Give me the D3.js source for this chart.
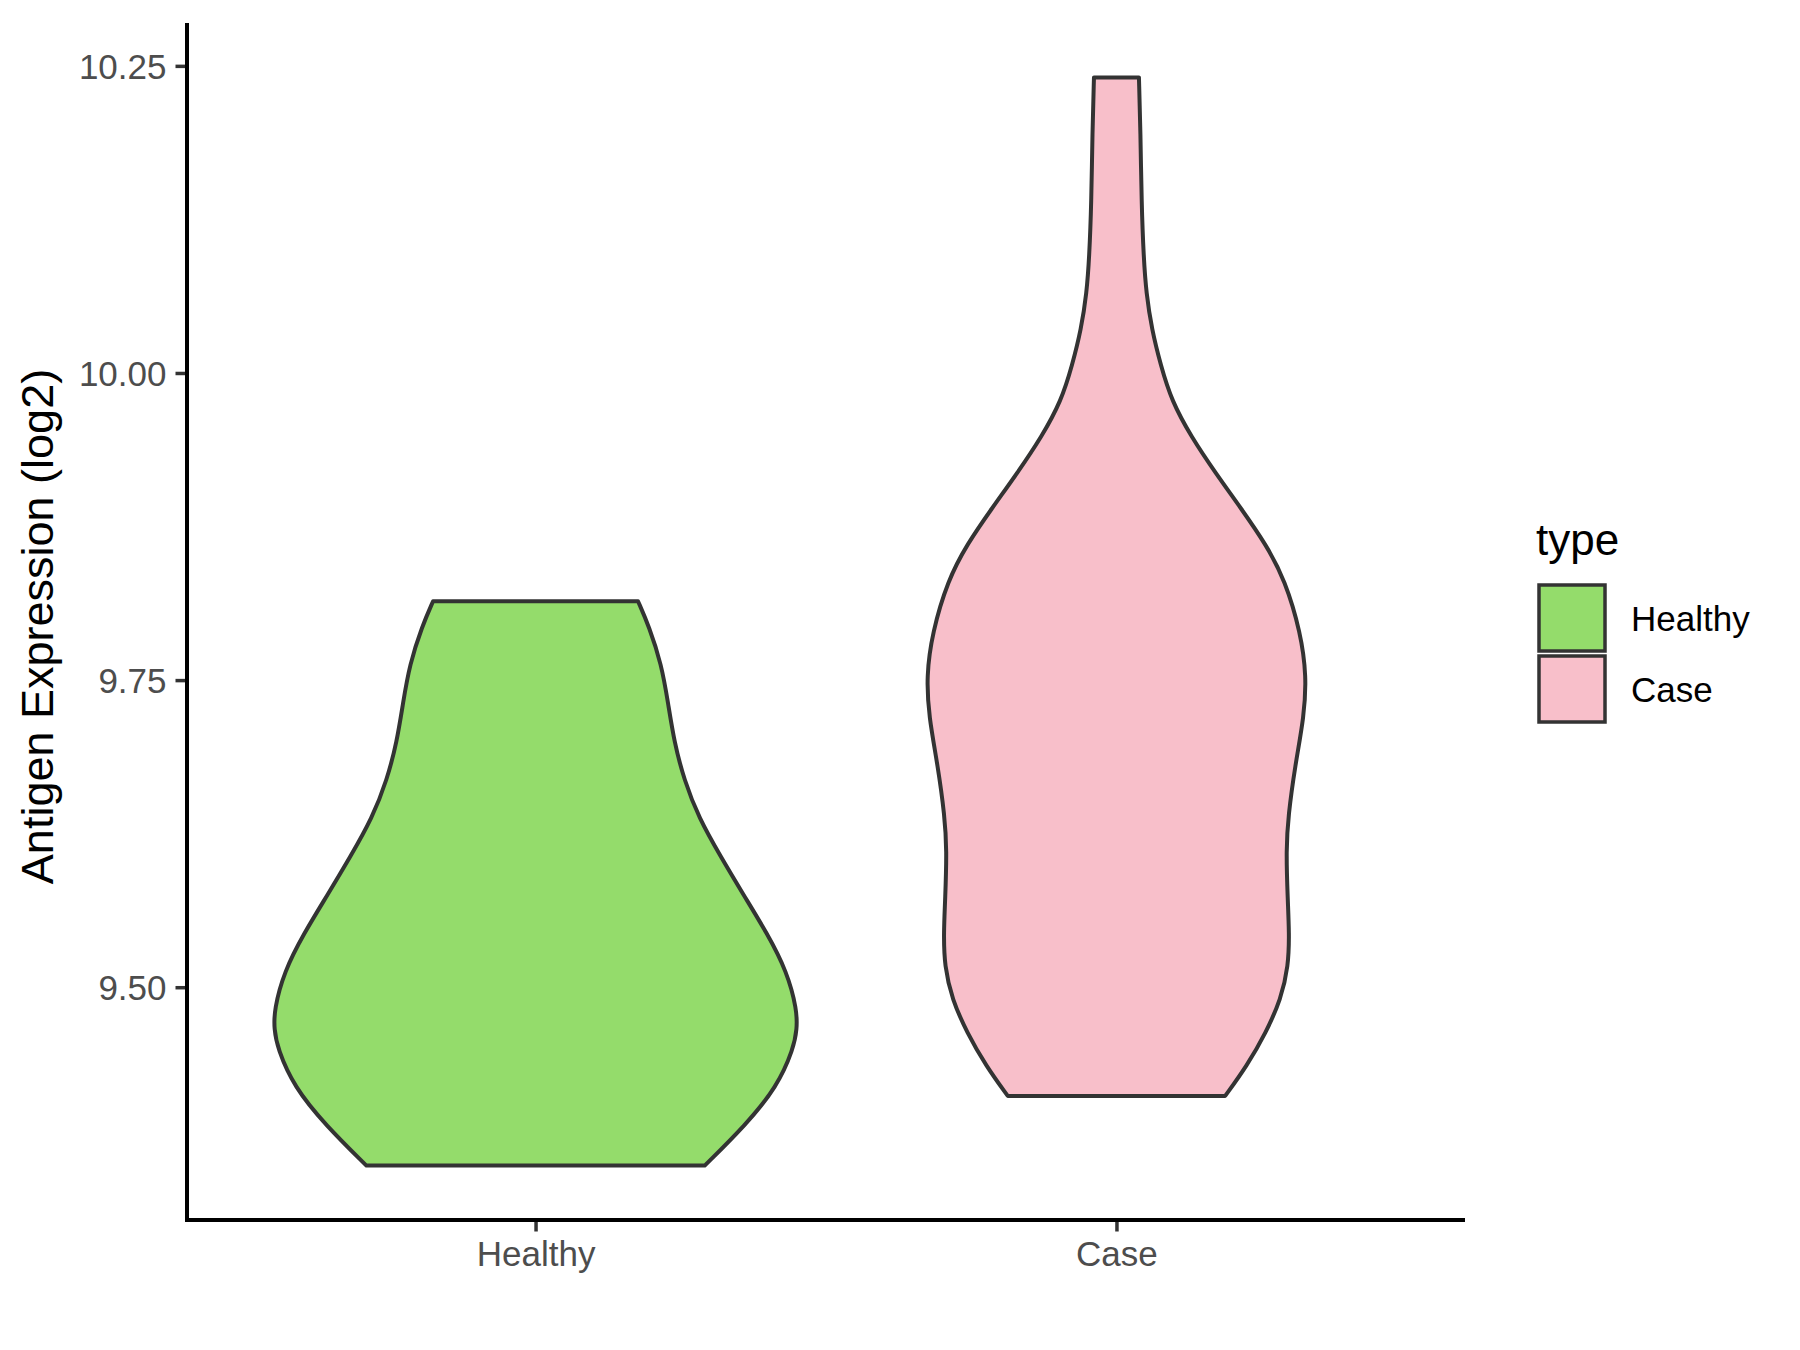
<!DOCTYPE html>
<html>
<head>
<meta charset="utf-8">
<script src="https://cdn.jsdelivr.net/npm/d3@7"></script>
<style>
  html, body { margin: 0; padding: 0; background: #fff; }
  svg text { font-family: "Liberation Sans", Arial, sans-serif; }
</style>
</head>
<body>
<svg id="chart" width="1800" height="1350"></svg>
<script>
// ---- data ----
const categories = ["Healthy", "Case"];
const fillColors = ["#94DC6B", "#F8BFCA"];
const yTicks = [9.50, 9.75, 10.00, 10.25];
const yTickLabels = ["9.50", "9.75", "10.00", "10.25"];

// violin density profiles (value, relative half-width)
const healthyValues = [9.3548, 9.3877, 9.4189, 9.4502, 9.4659, 9.4815, 9.5127, 9.5439, 9.5751, 9.6064, 9.6376, 9.6689, 9.7001, 9.7314, 9.7626, 9.7938, 9.8142];
const healthyDensity = [0.647, 0.803, 0.924, 0.987, 1.000, 1.000, 0.962, 0.886, 0.796, 0.708, 0.625, 0.568, 0.530, 0.507, 0.482, 0.434, 0.392];

const caseValues = [9.4115, 9.4359, 9.4631, 9.4902, 9.5172, 9.5444, 9.5715, 9.6121, 9.6392, 9.6799, 9.7206, 9.7531, 9.7884, 9.8313, 9.8605, 9.8897, 9.9189, 9.9481, 9.9773, 10.0065, 10.0357, 10.0649, 10.0941, 10.1378, 10.1962, 10.2406];
const caseDensity = [0.416, 0.499, 0.572, 0.629, 0.658, 0.661, 0.655, 0.649, 0.657, 0.683, 0.718, 0.727, 0.705, 0.645, 0.572, 0.477, 0.378, 0.286, 0.211, 0.169, 0.135, 0.114, 0.104, 0.096, 0.092, 0.086];

const seriesValues = [healthyValues, caseValues];
const seriesDensity = [healthyDensity, caseDensity];

// ---- layout ----
const svg = d3.select("#chart");
const panel = { left: 187, right: 1465, top: 23, bottom: 1220 };

const allVals = healthyValues.concat(caseValues);
const vMin = d3.min(allVals), vMax = d3.max(allVals);
const pad = (vMax - vMin) * 0.05;

const y = d3.scaleLinear().domain([vMin - pad, vMax + pad]).range([panel.bottom, panel.top]);
const x = d3.scalePoint().domain(categories).range([panel.left, panel.right]).padding(0.6);
const halfMax = x.step() * 0.45;
const w = d3.scaleLinear().domain([0, 1]).range([0, halfMax]);

// violins
categories.forEach((cat, i) => {
  const pts = seriesValues[i].map((v, j) => ({ v: v, d: seriesDensity[i][j] }));
  const cx = x(cat);
  const area = d3.area()
    .y(p => y(p.v))
    .x0(p => cx - w(p.d))
    .x1(p => cx + w(p.d))
    .curve(d3.curveBasis);
  svg.append("path")
    .datum(pts)
    .attr("d", area)
    .attr("fill", fillColors[i])
    .attr("stroke", "#333333")
    .attr("stroke-width", 4)
    .attr("stroke-linejoin", "round");
});

// axes
const yAxis = svg.append("g").attr("transform", `translate(${panel.left},0)`)
  .call(d3.axisLeft(y).tickValues(yTicks).tickFormat((d, i) => yTickLabels[i]).tickSize(11.5).tickPadding(9));
const xAxis = svg.append("g").attr("transform", `translate(0,${panel.bottom})`)
  .call(d3.axisBottom(x).tickSize(11.5).tickPadding(9));

[yAxis, xAxis].forEach(g => {
  g.select(".domain").remove();
  g.selectAll(".tick line").attr("stroke", "#333333").attr("stroke-width", 3.5);
  g.selectAll(".tick text").attr("fill", "#4D4D4D").style("font-size", "35px").style("font-family", "Liberation Sans, Arial, sans-serif");
});
xAxis.selectAll(".tick text").attr("dy", null).attr("y", 46);
yAxis.selectAll(".tick text").attr("dy", "0.36em");

svg.append("line").attr("x1", panel.left).attr("x2", panel.left).attr("y1", panel.top).attr("y2", panel.bottom + 2)
  .attr("stroke", "#000").attr("stroke-width", 4);
svg.append("line").attr("x1", panel.left - 2).attr("x2", panel.right).attr("y1", panel.bottom).attr("y2", panel.bottom)
  .attr("stroke", "#000").attr("stroke-width", 4);

// y title
svg.append("text")
  .attr("transform", `translate(53,${(panel.top + panel.bottom) / 2 + 5}) rotate(-90)`)
  .attr("text-anchor", "middle")
  .style("font-size", "45px")
  .attr("fill", "#000")
  .text("Antigen Expression (log2)");

// legend
const lg = svg.append("g");
lg.append("text").attr("x", 1536).attr("y", 555).style("font-size", "44px").attr("fill", "#000").text("type");
categories.forEach((cat, i) => {
  const ky = 585 + i * 71;
  lg.append("rect").attr("x", 1539).attr("y", ky).attr("width", 66).attr("height", 66)
    .attr("fill", fillColors[i]).attr("stroke", "#333333").attr("stroke-width", 3.5);
  lg.append("text").attr("x", 1631).attr("y", ky + 46).style("font-size", "35px").attr("fill", "#000").text(cat);
});
</script>
</body>
</html>
